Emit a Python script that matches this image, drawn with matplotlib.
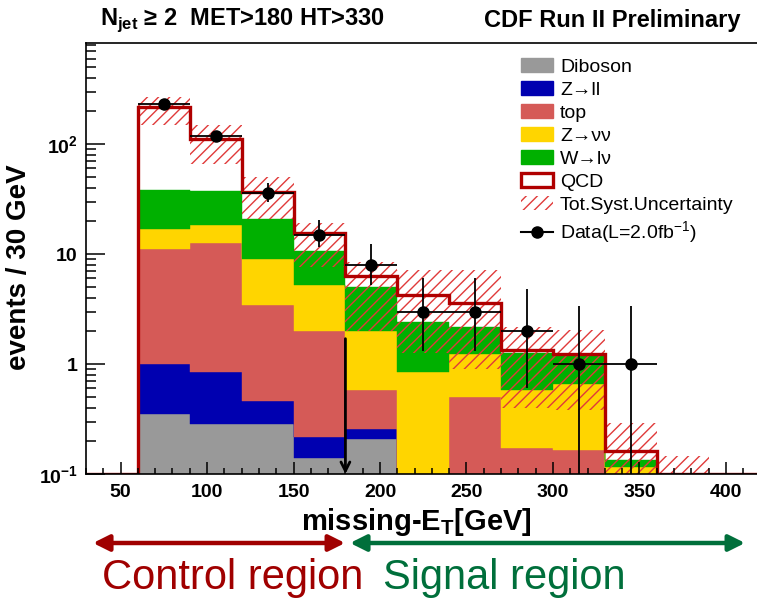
import numpy as np
import matplotlib
matplotlib.use('Agg')
import matplotlib.pyplot as plt
from matplotlib.patches import Patch
from matplotlib.lines import Line2D

plt.rcParams['font.family'] = ['Liberation Sans', 'DejaVu Sans']
plt.rcParams['mathtext.fontset'] = 'custom'
plt.rcParams['mathtext.rm'] = 'Liberation Sans'
plt.rcParams['mathtext.bf'] = 'Liberation Sans:bold'
plt.rcParams['hatch.linewidth'] = 1.0

# missing-ET bins [GeV]
edges = np.arange(30, 421, 30)

# expected contributions per bin (30-60, 60-90, ..., 390-420)
diboson = [0, 0.35, 0.285, 0.285, 0.14, 0.21, 0, 0, 0, 0, 0, 0, 0]
zll = [0, 0.65, 0.565, 0.175, 0.077, 0.048, 0, 0, 0, 0, 0, 0, 0]
top = [0, 10.1, 11.75, 2.98, 1.78, 0.32, 0, 0.5, 0.172, 0.165, 0, 0, 0]
znn = [0, 5.8, 5.8, 5.56, 3.2, 1.42, 0.85, 0.73, 0.41, 0.5, 0.116, 0, 0]
wln = [0, 21, 19, 11.8, 5.4, 3.0, 1.55, 0.94, 0.68, 0.54, 0.018, 0, 0]
qcd = [0, 179, 73.6, 15.8, 4.9, 1.3, 1.84, 1.43, 0.08, 0.02, 0.028, 0, 0]

# total systematic band
syst_lo = [0, 149, 66, 21, 7.7, 2.0, 1.26, 0.9, 0.4, 0.38, 0, 0, 0]
syst_hi = [0, 268, 149, 50, 19, 8.5, 7.2, 7.2, 2.17, 2.04, 0.29, 0.146, 0]

# data
data_x = [75, 105, 135, 165, 195, 225, 255, 285, 315, 345]
data_n = [231, 118, 36, 15, 8, 3, 3, 2, 1, 1]
data_lo = [15, 11, 6, 3.5, 2.8, 1.7, 1.7, 1.4, 1.0, 1.0]
data_hi = [15, 11, 8, 5.4, 4.3, 3.05, 3.05, 2.8, 2.35, 2.35]

names = ['Diboson', 'Z→ll', 'top', 'Z→νν', 'W→lν']
colors = ['#999999', '#0000b0', '#d55a57', '#ffd500', '#00b000']
qcd_color = '#b00000'
hatch_color = '#e03a3a'

fig = plt.figure(figsize=(7.57, 6.0), dpi=100)
ax = fig.add_axes([0.1136, 0.21, 0.891, 0.7183])
ax.set_yscale('log')

bottom = np.zeros(len(edges) - 1)
for vals, c in zip([diboson, zll, top, znn, wln], colors):
    upper = bottom + np.array(vals)
    ax.stairs(np.maximum(upper, 1e-3), edges, baseline=np.maximum(bottom, 1e-3),
              fill=True, facecolor=c, edgecolor=c, lw=0.3)
    bottom = upper
total = bottom + np.array(qcd)

ax.stairs(np.maximum(syst_hi, 1e-3), edges, baseline=np.maximum(syst_lo, 1e-3),
          fill=True, facecolor='none', edgecolor=hatch_color, hatch='///', lw=0)
ax.stairs(np.maximum(total, 0.1), edges, baseline=None, color=qcd_color, lw=2.4)

ax.errorbar(data_x, data_n, xerr=15, yerr=[data_lo, data_hi], fmt='o', color='k',
            ms=8, lw=1.3, capsize=0, zorder=5)

ax.annotate('', xy=(180, 0.1), xytext=(180, 1.7),
            arrowprops=dict(arrowstyle='->', color='k', lw=2, mutation_scale=16,
                            shrinkA=0, shrinkB=0))

ax.set_xlim(30, 420)
ax.set_ylim(0.1, 830)
ax.set_xticks(np.arange(50, 401, 50))
ax.set_xticks(np.arange(30, 421, 10), minor=True)
ax.set_yticks([0.1, 1, 10, 100])
ax.set_yticklabels([r'$\mathbf{10^{-1}}$', '1', '10', r'$\mathbf{10^{2}}$'])
ax.tick_params(axis='x', which='major', direction='in', length=8.5, width=1.1,
               labelsize=14, pad=7)
ax.tick_params(axis='x', which='minor', direction='in', length=4.3, width=1.1)
ax.tick_params(axis='y', which='major', direction='in', length=14, width=1.1,
               labelsize=14, pad=6)
ax.tick_params(axis='y', which='minor', direction='in', length=7, width=1.1)
for lab in ax.get_xticklabels() + ax.get_yticklabels():
    lab.set_fontweight('bold')
for s in ['left', 'bottom', 'top']:
    ax.spines[s].set_linewidth(1.2)
ax.spines['right'].set_visible(False)

ax.set_ylabel('events / 30 GeV', fontsize=20, fontweight='bold')
ax.yaxis.set_label_coords(-0.08, 0.48)
ax.set_xlabel(r'missing-E$_{\mathbf{T}}$[GeV]', fontsize=21, fontweight='bold')
ax.xaxis.set_label_coords(0.49, -0.075)

fig.text(100 / 757, 1 - 20 / 600, r'N$_{\mathbf{jet}}$ ≥ 2  MET>180 HT>330',
         fontsize=17, fontweight='bold', va='center', ha='left')
fig.text(741 / 757, 1 - 20 / 600, 'CDF Run II Preliminary',
         fontsize=17, fontweight='bold', va='center', ha='right')

handles = [Patch(facecolor=c, edgecolor=c) for c in colors]
handles.append(Patch(facecolor='white', edgecolor=qcd_color, lw=2.4))
handles.append(Patch(facecolor='none', edgecolor=hatch_color, hatch='///', lw=0))
handles.append(Line2D([], [], color='k', marker='o', ms=8, lw=1.5))
labels = names + ['QCD', 'Tot.Syst.Uncertainty', r'Data(L=2.0fb$^{-1}$)']
fig.legend(handles, labels, loc='upper left', bbox_to_anchor=(0.688, 0.903),
           frameon=False, fontsize=14, borderpad=0, borderaxespad=0,
           handlelength=1.65, handleheight=0.72, handletextpad=0.36,
           labelspacing=0.27)

# control / signal region arrows below the axis
red_dark = '#a00000'
green_dark = '#006f3b'
ax.annotate('', xy=(0.1229, 0.095), xytext=(0.4558, 0.095), xycoords='figure fraction',
            arrowprops=dict(arrowstyle='<|-|>', color=red_dark, lw=3.2,
                            mutation_scale=24, shrinkA=0, shrinkB=0))
ax.annotate('', xy=(0.4624, 0.095), xytext=(0.9842, 0.095), xycoords='figure fraction',
            arrowprops=dict(arrowstyle='<|-|>', color=green_dark, lw=3.2,
                            mutation_scale=24, shrinkA=0, shrinkB=0))
fig.text(0.307, 0.037, 'Control region', color=red_dark, fontsize=30,
         ha='center', va='center')
fig.text(0.666, 0.037, 'Signal region', color=green_dark, fontsize=30,
         ha='center', va='center')

fig.savefig('out.png', dpi=100)
